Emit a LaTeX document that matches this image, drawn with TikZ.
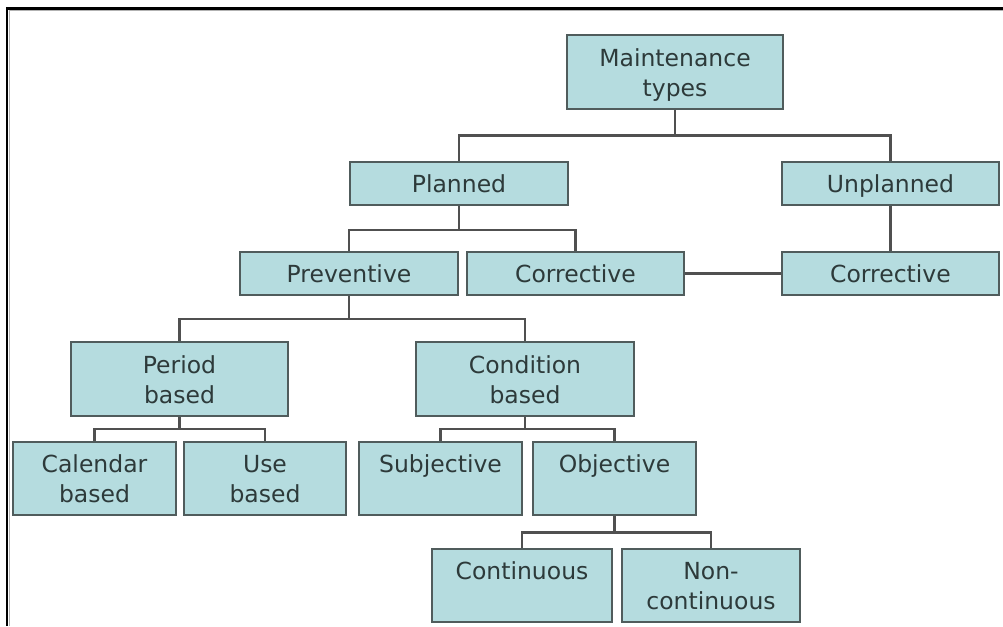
\documentclass[tikz,border=0pt]{standalone}
\usepackage{fontspec}
\setmainfont{DejaVu Sans}
\definecolor{boxfill}{RGB}{181,220,223}
\definecolor{boxline}{RGB}{80,92,92}
\definecolor{txt}{RGB}{45,58,58}
\definecolor{conn}{RGB}{80,80,80}
\newcommand{\mk}[1]{\raisebox{0pt}[18pt][0pt]{#1}}
\begin{document}
\begin{tikzpicture}[x=1pt,y=-1pt,
  box/.style={draw=boxline, line width=2pt, fill=boxfill, inner sep=0pt,
    align=center, text=txt, font=\fontsize{23.5}{30}\selectfont,
    minimum width=#1},
  box/.default=217pt,
  tall/.style={minimum height=73pt},
  flat/.style={minimum height=43pt},
  link/.style={draw=conn, line width=2.2pt}]
\useasboundingbox (0,0) rectangle (1003,626);
\fill[white] (0,0) rectangle (1003,626);
% frame
\draw[black, line width=2.2pt] (7,626) -- (7,8.5) -- (1003,8.5);
\draw[gray!60, line width=0.8pt] (9.5,626) -- (9.5,10.5) -- (1003,10.5);
% nodes
\node[box=216pt, tall] (mt) at (675,72) {\mk{Maintenance}\\\mk{types}};
\node[box=218pt, flat] (plan) at (459,183.5) {\mk{Planned}};
\node[box, flat] (unpl) at (890.5,183.5) {\mk{Unplanned}};
\node[box=218pt, flat] (prev) at (349,273.5) {\mk{Preventive}};
\node[box, flat] (corrL) at (575.5,273.5) {\mk{Corrective}};
\node[box, flat] (corrR) at (890.5,273.5) {\mk{Corrective}};
\node[box, tall, minimum height=74pt] (period) at (179.5,379) {\mk{Period}\\\mk{based}};
\node[box=218pt, tall, minimum height=74pt] (cond) at (525,379) {\mk{Condition}\\\mk{based}};
\node[box=163pt, tall] (cal) at (94.5,478) {\mk{Calendar}\\\mk{based}};
\node[box=162pt, tall] (use) at (265,478) {\mk{Use}\\\mk{based}};
\node[box=163pt, tall] (subj) at (440.5,478) {\mk{Subjective}\\\mk{}};
\node[box=163pt, tall] (obj) at (614.5,478) {\mk{Objective}\\\mk{}};
\node[box=180pt, tall] (cont) at (522,585) {\mk{Continuous}\\\mk{}};
\node[box=178pt, tall] (ncont) at (711,585) {\mk{Non-}\\\mk{continuous}};
% connectors
\draw[link] (mt.south) -- ++(0,26) -| (plan.north);
\draw[link] (mt.south) -- ++(0,26) -| (unpl.north);
\draw[link] (unpl.south) -- (corrR.north);
\draw[link] (corrL.east) -- (corrR.west);
\draw[link] (plan.south) -- ++(0,24) -| (prev.north);
\draw[link] (plan.south) -- ++(0,24) -| (corrL.north);
\draw[link] (prev.south) -- ++(0,23) -| (period.north);
\draw[link] (prev.south) -- ++(0,23) -| (cond.north);
\draw[link] (period.south) -- ++(0,12) -| (cal.north);
\draw[link] (period.south) -- ++(0,12) -| (use.north);
\draw[link] (cond.south) -- ++(0,12) -| (subj.north);
\draw[link] (cond.south) -- ++(0,12) -| (obj.north);
\draw[link] (obj.south) -- ++(0,17) -| (cont.north);
\draw[link] (obj.south) -- ++(0,17) -| (ncont.north);
\end{tikzpicture}
\end{document}
